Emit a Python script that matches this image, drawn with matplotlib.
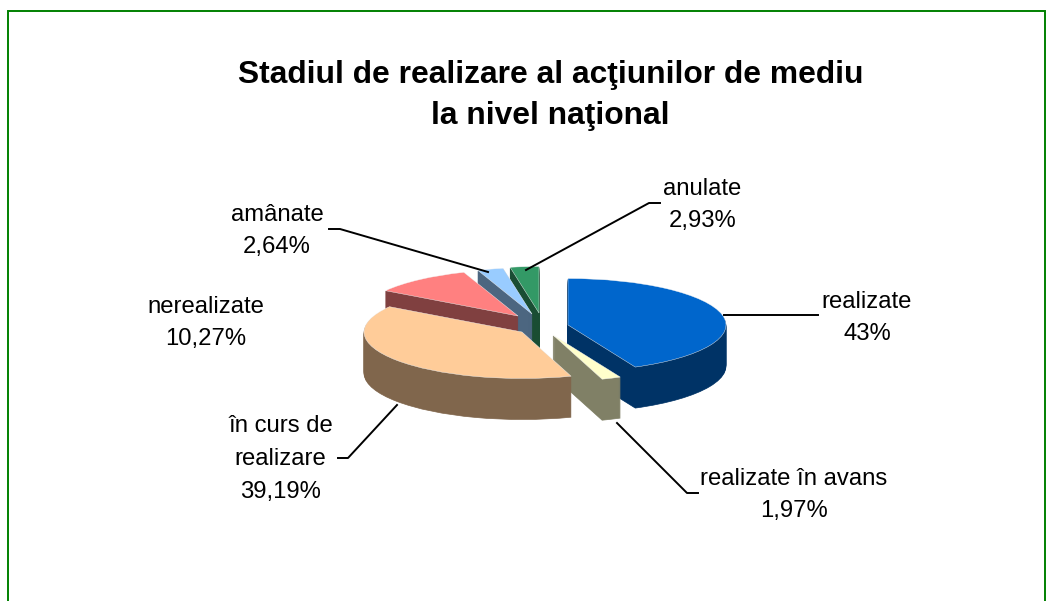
import matplotlib
matplotlib.use("Agg")
import matplotlib.pyplot as plt

title_lines = ["Stadiul de realizare al acţiunilor de mediu", "la nivel naţional"]
categories = ["realizate", "realizate în avans", "în curs de\nrealizare", "nerealizate", "amânate", "anulate"]
value_labels = ["43%", "1,97%", "39,19%", "10,27%", "2,64%", "2,93%"]
values = [43.0, 1.97, 39.19, 10.27, 2.64, 2.93]
top_colors = ["#0066CC", "#FFFFCC", "#FFCC99", "#FF8080", "#99CCFF", "#339966"]
side_colors = ["#003366", "#808066", "#80664C", "#804040", "#4C6680", "#1A4D33"]
apex_px = [(568, 325), (553, 335), (522, 332), (518, 316), (532, 314), (539, 313)]
label_px = [(867, 318), (794, 495), (280.5, 459), (206, 323), (277, 231), (702.5, 205)]
leaders = [
    [(724, 315), (818, 315)],
    [(617, 423), (687, 493), (698, 493)],
    [(397, 405), (348, 458), (338, 458)],
    [],
    [(488, 272), (340, 229), (329, 229)],
    [(526, 270), (649, 203), (660, 203)],
]
draw_order = [5, 4, 3, 0, 1, 2]

W, H = 1052, 601
RX, RY, DEPTH = 158.0, 46.5, 41
plt.rcParams["font.family"] = ["Liberation Sans", "DejaVu Sans"]
fig = plt.figure(figsize=(W / 100, H / 100), dpi=100, facecolor="white")
ax = fig.add_axes([0, 0, 1, 1])

starts = []
c = 0.0
for v in values:
    starts.append(90 - c * 3.6)
    c += v


def slice_at(i, px, py, color, lw=0.0, ec=None):
    ax.pie([values[i] / 100], normalize=False, startangle=starts[i], counterclock=False,
           colors=[color], center=(px / RX, -py / RY), radius=1.0,
           wedgeprops={"linewidth": lw, "edgecolor": ec if ec else color})


for i in draw_order:
    x0, y0 = apex_px[i]
    for d in range(DEPTH, 0, -1):
        slice_at(i, x0, y0 + d, side_colors[i], lw=0.5)
    slice_at(i, x0, y0, top_colors[i], lw=0.3, ec="#F4F4F4")

ax.set_aspect("auto")
ax.set_xlim(0, W / RX)
ax.set_ylim(-H / RY, 0)
ax.set_axis_off()

ov = fig.add_axes([0, 0, 1, 1])
ov.set_xlim(0, W)
ov.set_ylim(H, 0)
ov.set_axis_off()
ov.patch.set_alpha(0)

ov.plot([8, 8, 1045, 1045], [H, 11, 11, H], color="#008000", lw=1.4, solid_joinstyle="miter")
for seg in leaders:
    if seg:
        ov.plot([p[0] for p in seg], [p[1] for p in seg], color="black", lw=1.4)

ov.text(550.5, 75.5, title_lines[0], ha="center", va="center", fontsize=22.85, fontweight="bold")
ov.text(550.5, 116, title_lines[1], ha="center", va="center", fontsize=22.85, fontweight="bold")
for cat, val, (x, y) in zip(categories, value_labels, label_px):
    ov.text(x, y, cat + "\n" + val, ha="center", va="center", fontsize=17.2, linespacing=1.62)

fig.savefig("out.png", dpi=100)
